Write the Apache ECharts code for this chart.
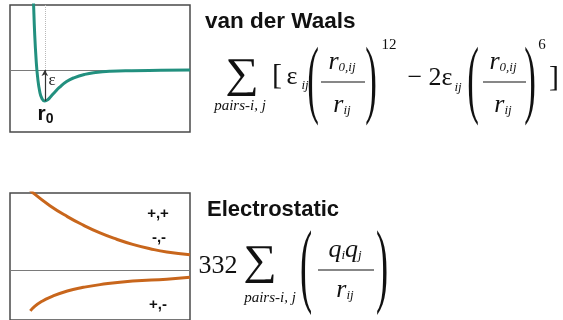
<!DOCTYPE html>
<html>
<head>
<meta charset="utf-8">
<script src="https://cdn.jsdelivr.net/npm/echarts@6/dist/echarts.min.js"></script>
<style>
  html, body { margin: 0; padding: 0; background: #fff; }
  #chart { width: 563px; height: 320px; }
</style>
</head>
<body>
<div id="chart"></div>
<script>
// Lennard-Jones style van der Waals curve (distance in units of r0, energy in units of epsilon)
const vdwDistance = [0.82, 0.84, 0.86, 0.88, 0.90, 0.93, 0.96, 1.00, 1.04, 1.08, 1.13, 1.20, 1.30, 1.40, 1.55, 1.70, 1.90, 2.20, 2.60, 3.00];
const vdwEnergy   = [3.40, 2.41, 1.17, 0.33, -0.22, -0.70, -0.92, -1.00, -0.96, -0.86, -0.73, -0.56, -0.37, -0.25, -0.14, -0.08, -0.04, -0.02, -0.01, 0.00];

// Coulomb curves: like charges (repulsive) and opposite charges (attractive)
const likeDistance = [0.77, 0.84, 1.07, 1.31, 1.53, 1.76, 1.99, 2.21, 2.45, 2.68, 3.00];
const likeEnergy   = [4.55, 4.25, 3.55, 2.95, 2.48, 2.05, 1.70, 1.42, 1.18, 1.00, 0.85];
const unlikeDistance = [0.80, 0.86, 0.96, 1.07, 1.31, 1.53, 1.76, 2.21, 2.68, 3.00];
const unlikeEnergy   = [-2.25, -2.00, -1.72, -1.50, -1.15, -0.95, -0.80, -0.60, -0.50, -0.40];

const chargeLabels = ['+,+', '-,-', '+,-'];

const TEAL = '#22907f';
const ORANGE = '#c8661c';
const SERIF = '"Liberation Serif", "Times New Roman", serif';
const SANS = '"Liberation Sans", Arial, sans-serif';

function pairs(xs, ys) { return xs.map((x, i) => [x, ys[i]]); }

function txt(x, y, text, font, align) {
  return { type: 'text', x: x, y: y, silent: true,
    style: { text: text, font: font, fill: '#111', align: align || 'center', verticalAlign: 'middle' } };
}
function sigma(x, y) {
  return { type: 'text', x: x, y: y, scaleX: 1.12, silent: true,
    style: { text: '\u2211', font: '42px ' + SERIF, fill: '#111', align: 'center', verticalAlign: 'middle' } };
}
// tall, thin parentheses made from stretched serif glyphs
function bigParen(x, y, ch, size, sy) {
  return { type: 'text', x: x, y: y, scaleX: 0.7, scaleY: sy, silent: true,
    style: { text: ch, font: size + 'px ' + SERIF, fill: '#111', align: 'center', verticalAlign: 'middle' } };
}
function bar(x1, x2, y) {
  return { type: 'line', silent: true, shape: { x1: x1, y1: y, x2: x2, y2: y }, style: { stroke: '#111', lineWidth: 1.2 } };
}
const subRich = {
  r: { font: 'italic 26px ' + SERIF, fill: '#111' },
  s: { font: 'italic 13px ' + SERIF, fill: '#111', padding: [12, 0, 0, 0] },
  q: { font: 'italic 26px ' + SERIF, fill: '#111' }
};
function frac(x, y, str) {
  return { type: 'text', x: x, y: y, silent: true,
    style: { text: str, rich: subRich, align: 'center', verticalAlign: 'middle' } };
}

const chart = echarts.init(document.getElementById('chart'), null, { renderer: 'canvas' });

const axisCommon = {
  type: 'value', min: 0.52, max: 3.0,
  axisLabel: { show: false }, axisTick: { show: false }, splitLine: { show: false },
  axisLine: { show: true, onZero: true, lineStyle: { color: '#7a7a7a', width: 1 } }
};
const yCommon = {
  type: 'value', axisLabel: { show: false }, axisTick: { show: false },
  splitLine: { show: false }, axisLine: { show: false }
};

const graphics = [
  // van der Waals formula
  txt(205, 22, 'van der Waals', 'bold 22.5px ' + SANS, 'left'),
  sigma(242, 76),
  txt(240, 106, 'pairs-i, j', 'italic 15px ' + SERIF),
  txt(277, 76, '[', '30px ' + SERIF),
  txt(292, 77, '\u03b5', '26px ' + SERIF),
  txt(305, 86, 'ij', 'italic 13px ' + SERIF),
  bigParen(313, 84, '(', 50, 1.75),
  frac(342, 62, '{r|r}{s|0,ij}'),
  bar(321, 365, 82),
  frac(342, 105, '{r|r}{s|ij}'),
  bigParen(371, 84, ')', 50, 1.75),
  txt(389, 45, '12', '15px ' + SERIF),
  txt(430, 78, '\u2212 2\u03b5', '26px ' + SERIF),
  txt(458, 88, 'ij', 'italic 13px ' + SERIF),
  bigParen(473, 84, '(', 50, 1.75),
  frac(503, 62, '{r|r}{s|0,ij}'),
  bar(483, 526, 82),
  frac(503, 105, '{r|r}{s|ij}'),
  bigParen(530, 84, ')', 50, 1.75),
  txt(542, 45, '6', '15px ' + SERIF),
  txt(554, 78, ']', '30px ' + SERIF),

  // electrostatic formula
  txt(207, 210, 'Electrostatic', 'bold 22px ' + SANS, 'left'),
  txt(218, 266, '332', '26px ' + SERIF),
  sigma(260, 263),
  txt(270, 298, 'pairs-i, j', 'italic 15px ' + SERIF),
  bigParen(306, 270, '(', 52, 1.8),
  frac(345, 250, '{q|q}{s|i}{q|q}{s|j}'),
  bar(318, 374, 270),
  frac(345, 290, '{r|r}{s|ij}'),
  bigParen(382, 270, ')', 52, 1.8),

  // charge-pair labels
  txt(158, 214, chargeLabels[0], 'bold 15px ' + SANS),
  txt(159, 238, chargeLabels[1], 'bold 15px ' + SANS),
  txt(158, 305, chargeLabels[2], 'bold 15px ' + SANS)
];

chart.setOption({
  animation: false,
  backgroundColor: '#ffffff',
  grid: [
    { left: 10, top: 5, width: 180, height: 127, show: true, borderColor: '#4a4a4a', borderWidth: 1.5, backgroundColor: '#fff' },
    { left: 10, top: 193, width: 180, height: 140, show: true, borderColor: '#4a4a4a', borderWidth: 1.5, backgroundColor: '#fff' }
  ],
  xAxis: [
    Object.assign({ gridIndex: 0 }, axisCommon),
    Object.assign({ gridIndex: 1 }, axisCommon)
  ],
  yAxis: [
    Object.assign({ gridIndex: 0, min: -2.0, max: 2.1 }, yCommon),
    Object.assign({ gridIndex: 1, min: -2.75, max: 4.25 }, yCommon)
  ],
  series: [
    {
      name: 'van der Waals', type: 'line', xAxisIndex: 0, yAxisIndex: 0,
      data: pairs(vdwDistance, vdwEnergy), showSymbol: false, symbol: 'none',
      smooth: 0.5, clip: true,
      lineStyle: { color: TEAL, width: 3 }, z: 3,
      markLine: {
        silent: true, symbol: ['none', 'none'], animation: false, label: { show: false },
        data: [
          [{ coord: [1.0, 2.1], lineStyle: { type: 'dotted', color: '#b8b8b8', width: 1 } }, { coord: [1.0, 0] }],
          [{ coord: [1.0, -1.0], symbol: 'none', lineStyle: { type: 'solid', color: '#333', width: 1.2 } },
           { coord: [1.0, 0], symbol: 'arrow', symbolSize: [5, 6] }]
        ]
      },
      markPoint: {
        silent: true, symbol: 'circle', symbolSize: 0, animation: false,
        data: [
          { coord: [1.1, -0.33], label: { show: true, formatter: '\u03b5', color: '#222', fontSize: 17, fontFamily: SERIF } },
          { coord: [1.01, -1.42], label: { show: true, formatter: '{a|r}{b|0}',
            rich: { a: { fontSize: 21, fontWeight: 'bold', fontFamily: SANS, color: '#111' },
                    b: { fontSize: 14, fontWeight: 'bold', fontFamily: SANS, color: '#111', padding: [10, 0, 0, 0] } } } }
        ]
      }
    },
    {
      name: 'like charges', type: 'line', xAxisIndex: 1, yAxisIndex: 1,
      data: pairs(likeDistance, likeEnergy), showSymbol: false, symbol: 'none',
      smooth: 0.5, clip: true,
      lineStyle: { color: ORANGE, width: 3 }
    },
    {
      name: 'opposite charges', type: 'line', xAxisIndex: 1, yAxisIndex: 1,
      data: pairs(unlikeDistance, unlikeEnergy), showSymbol: false, symbol: 'none',
      smooth: 0.5, clip: true,
      lineStyle: { color: ORANGE, width: 3 }
    }
  ],
  graphic: graphics
});
</script>
</body>
</html>
